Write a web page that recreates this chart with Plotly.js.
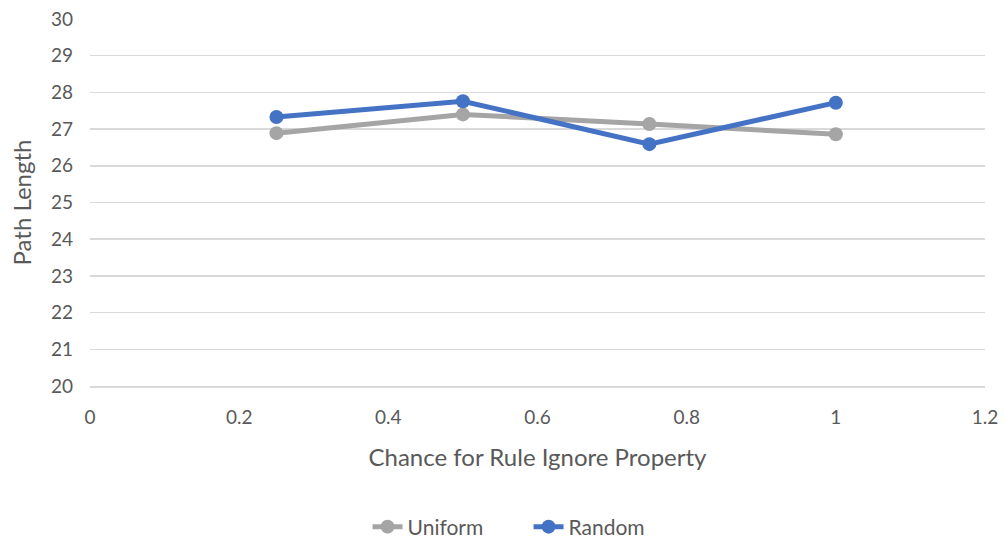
<!DOCTYPE html>
<html><head><meta charset="utf-8">
<script src="https://cdn.plot.ly/plotly-3.0.1.min.js"></script>
<style>html,body{margin:0;padding:0;background:#fff}#chart{width:1004px;height:540px}</style>
</head><body><div id="chart"></div>
<script>
const xValues = [0.25, 0.5, 0.75, 1];
const uniform = [26.89, 27.40, 27.14, 26.86];
const random = [27.33, 27.76, 26.59, 27.72];
const seriesNames = ['Uniform', 'Random'];
const xTickVals = [0, 0.2, 0.4, 0.6, 0.8, 1, 1.2];
const xTickText = ['0', '0.2', '0.4', '0.6', '0.8', '1', '1.2'];
const xTitle = 'Chance for Rule Ignore Property';
const yTitle = 'Path Length';

const font = 'Lato, "Open Sans", sans-serif';
const traces = [
  {x: xValues, y: uniform, name: seriesNames[0], mode: 'lines+markers',
   line: {color: '#A5A5A5', width: 5}, marker: {color: '#A5A5A5', size: 14}},
  {x: xValues, y: random, name: seriesNames[1], mode: 'lines+markers',
   line: {color: '#4472C4', width: 5}, marker: {color: '#4472C4', size: 14}}
];
const layout = {
  width: 1004, height: 540,
  margin: {l: 90, r: 19, t: 0, b: 0, autoexpand: false},
  paper_bgcolor: '#fff', plot_bgcolor: '#fff',
  font: {family: font, color: '#595959', size: 19},
  xaxis: {range: [0, 1.2], tickvals: xTickVals, ticktext: xTickText,
    showgrid: false, zeroline: false, showline: true, linecolor: '#D9D9D9', linewidth: 1.5,
    ticks: '', ticklabelstandoff: 14, tickfont: {size: 19, color: '#595959'},
    title: {text: xTitle, font: {size: 24, color: '#595959'}, standoff: 22}},
  yaxis: {range: [20, 30], dtick: 1, domain: [1 - 386/540, 1 - 19/540],
    showgrid: true, gridcolor: '#D9D9D9', gridwidth: 1.5,
    zeroline: false, showline: false, ticks: '', ticklabelstandoff: 16,
    tickfont: {size: 19, color: '#595959'},
    title: {text: yTitle, font: {size: 24, color: '#595959'}, standoff: 12}},
  showlegend: true,
  legend: {orientation: 'h', x: 0.49, xanchor: 'center', y: 1 - 527/540, yanchor: 'middle',
    entrywidth: 116, entrywidthmode: 'pixels',
    font: {size: 21, color: '#595959'}, traceorder: 'normal'}
};
Plotly.newPlot('chart', traces, layout, {displayModeBar: false, staticPlot: true});
</script></body></html>
